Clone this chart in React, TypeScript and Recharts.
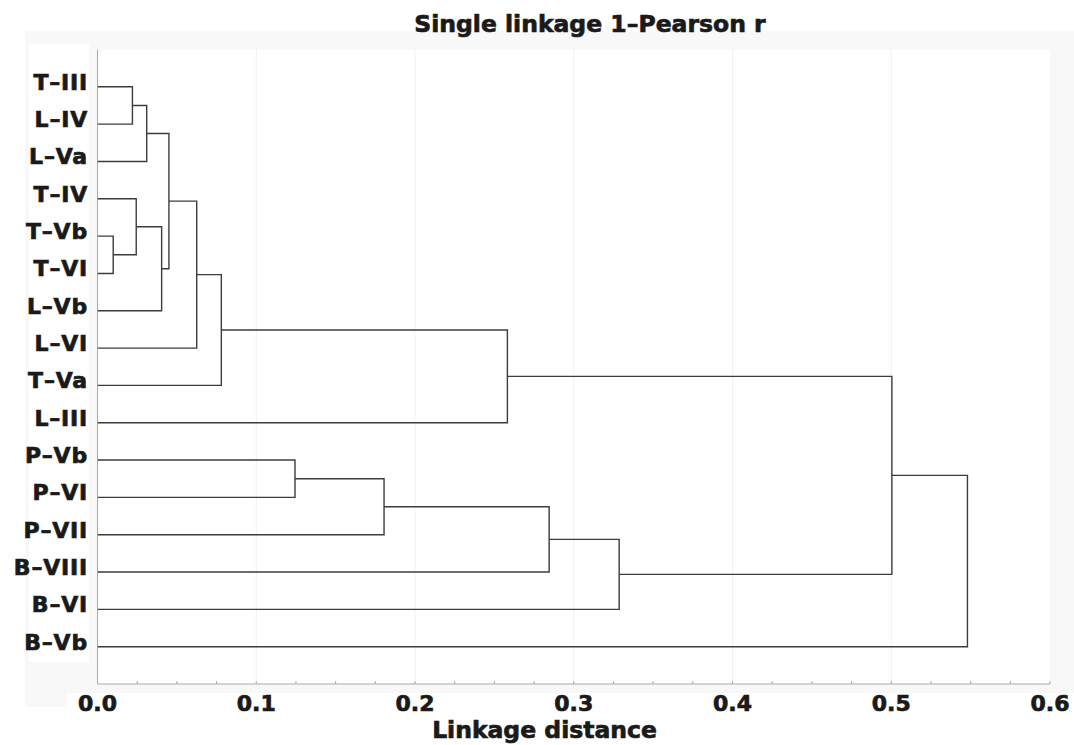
import React from 'react';
import { ScatterChart, Scatter, XAxis, YAxis, ReferenceLine } from 'recharts';

// leaf order, top to bottom
const leaves = [
  'T–III', 'L–IV', 'L–Va', 'T–IV', 'T–Vb', 'T–VI', 'L–Vb', 'L–VI',
  'T–Va', 'L–III', 'P–Vb', 'P–VI', 'P–VII', 'B–VIII', 'B–VI', 'B–Vb'
];

// [childA, childB, linkage distance]; ids >= 16 refer to earlier merges (16 + index)
const merges: [number, number, number][] = [
  [0, 1, 0.022],
  [16, 2, 0.031],
  [4, 5, 0.0099],
  [3, 18, 0.0244],
  [19, 6, 0.0404],
  [17, 20, 0.045],
  [21, 7, 0.0625],
  [22, 8, 0.078],
  [23, 9, 0.2582],
  [10, 11, 0.1244],
  [25, 12, 0.1805],
  [26, 13, 0.2845],
  [27, 14, 0.3286],
  [24, 28, 0.5004],
  [29, 15, 0.548]
];

const majorTicks = [0, 0.1, 0.2, 0.3, 0.4, 0.5, 0.6];
const minorTicks = [
  0, 0.025, 0.05, 0.075, 0.1, 0.125, 0.15, 0.175, 0.2, 0.225, 0.25, 0.275, 0.3,
  0.325, 0.35, 0.375, 0.4, 0.425, 0.45, 0.475, 0.5, 0.525, 0.55, 0.575, 0.6
];
const gridLines = [0.1, 0.2, 0.3, 0.4, 0.5];
const leafTicks = leaves.map((_, i) => i + 1);

// build the U-shaped links from the merge table
const nodeY: number[] = leaves.map((_, i) => i + 1);
const nodeH: number[] = leaves.map(() => 0);
const links = merges.map(([a, b, h]) => {
  const pts = [
    { x: nodeH[a], y: nodeY[a] },
    { x: h, y: nodeY[a] },
    { x: h, y: nodeY[b] },
    { x: nodeH[b], y: nodeY[b] }
  ];
  nodeY.push((nodeY[a] + nodeY[b]) / 2);
  nodeH.push(h);
  return pts;
});

const FONT = '"DejaVu Sans", sans-serif';
const FRAME = '#a9a9a9';
const LINK = '#3c3c3c';
const INK = '#1a1a1a';
// heavy "black" weight look
const heavy = { fill: INK, stroke: INK, strokeWidth: 0.7, fontFamily: FONT, fontWeight: 'bold' as const };

const BottomTick = (props: any) => {
  const { x, y, payload } = props;
  const major = majorTicks.some(t => Math.abs(t - payload.value) < 1e-9);
  return (
    <g>
      <line x1={x} x2={x} y1={y} y2={y - 3} stroke={FRAME} />
      {major && (
        <text x={x} y={y + 27} textAnchor="middle" fontSize={22} {...heavy}>
          {payload.value.toFixed(1)}
        </text>
      )}
    </g>
  );
};

const TopTick = (props: any) => {
  const { x, y } = props;
  return <line x1={x} x2={x} y1={y} y2={y + 3} stroke={FRAME} />;
};

const RightTick = (props: any) => {
  const { x, y } = props;
  return <line x1={x} x2={x - 3} y1={y} y2={y} stroke={FRAME} />;
};

const LeafTick = (props: any) => {
  const { x, y, payload } = props;
  return (
    <text x={x - 9.5} y={y + 3} textAnchor="end" fontSize={22} letterSpacing={0.8} {...heavy}>
      {leaves[payload.value - 1]}
    </text>
  );
};

const App = () => (
  <div style={{ position: 'absolute', left: 0, top: 0, width: 1074, height: 745, background: '#fff' }}>
    <div style={{ position: 'absolute', left: 25, top: 31, width: 1049, height: 662, background: '#f8f8f8' }} />
    <div style={{ position: 'absolute', left: 25, top: 693, width: 42, height: 14, background: '#f8f8f8' }} />
    <div style={{ position: 'absolute', left: 29, top: 44, width: 60, height: 618, background: '#fff' }} />
    <div style={{ position: 'absolute', left: 97.5, top: 49.5, width: 952.5, height: 634.5, background: '#fff' }} />
    <div style={{ position: 'absolute', left: 0, top: 0 }}>
      <ScatterChart width={1074} height={745} margin={{ top: 49.5, right: 24, bottom: 0, left: 0 }}>
        <XAxis xAxisId="b" type="number" dataKey="x" domain={[0, 0.6]} allowDataOverflow
          ticks={minorTicks} interval={0} height={61} stroke={FRAME}
          tickLine={false} tickSize={0} tickMargin={0} tick={<BottomTick />} />
        <XAxis xAxisId="t" orientation="top" type="number" domain={[0, 0.6]} allowDataOverflow
          ticks={minorTicks} interval={0} height={0} stroke={FRAME}
          tickLine={false} tickSize={0} tickMargin={0} tick={<TopTick />} />
        <YAxis yAxisId="l" type="number" dataKey="y" domain={[0, 17]} reversed allowDataOverflow
          ticks={leafTicks} interval={0} width={97.5} stroke={FRAME}
          tickLine={false} tickSize={0} tickMargin={0} tick={<LeafTick />} />
        <YAxis yAxisId="r" orientation="right" type="number" domain={[0, 17]} reversed allowDataOverflow
          ticks={leafTicks} interval={0} width={0} stroke={FRAME}
          tickLine={false} tickSize={0} tickMargin={0} tick={<RightTick />} />
        {gridLines.map(v => (
          <ReferenceLine key={v} x={v} xAxisId="b" yAxisId="l" stroke="#f1f1f1" />
        ))}
        {links.map((pts, i) => (
          <Scatter key={i} data={pts} xAxisId="b" yAxisId="l" isAnimationActive={false}
            line={{ stroke: LINK, strokeWidth: 1.4 }} shape={() => <g />} legendType="none" />
        ))}
      </ScatterChart>
    </div>
    <svg width={1074} height={745} style={{ position: 'absolute', left: 0, top: 0, pointerEvents: 'none' }}>
      <text x={590} y={32} textAnchor="middle" fontSize={23.5} {...heavy}>
        Single linkage 1–Pearson r
      </text>
      <text x={544.5} y={738} textAnchor="middle" fontSize={23.5} {...heavy}>
        Linkage distance
      </text>
    </svg>
  </div>
);

export default App;
